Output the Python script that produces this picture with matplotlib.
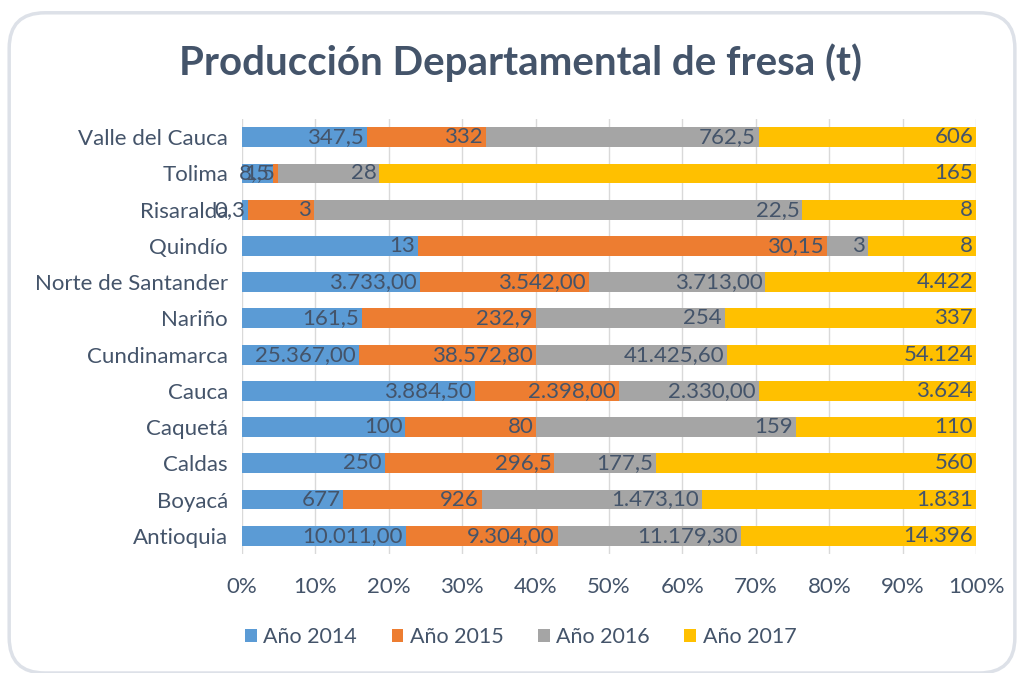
import matplotlib
matplotlib.use("Agg")
import matplotlib.pyplot as plt
import numpy as np
from matplotlib.patches import FancyBboxPatch

plt.rcParams['font.family'] = ['Lato', 'DejaVu Sans']

departamentos = ["Antioquia", "Boyacá", "Caldas", "Caquetá", "Cauca", "Cundinamarca",
                 "Nariño", "Norte de Santander", "Quindío", "Risaralda", "Tolima",
                 "Valle del Cauca"]
anio_2014 = [10011.00, 677, 250, 100, 3884.50, 25367.00, 161.5, 3733.00, 13, 0.3, 8.5, 347.5]
anio_2015 = [9304.00, 926, 296.5, 80, 2398.00, 38572.80, 232.9, 3542.00, 30.15, 3, 1.5, 332]
anio_2016 = [11179.30, 1473.10, 177.5, 159, 2330.00, 41425.60, 254, 3713.00, 3, 22.5, 28, 762.5]
anio_2017 = [14396, 1831, 560, 110, 3624, 54124, 337, 4422, 8, 8, 165, 606]

series = [("Año 2014", anio_2014, "#5B9BD5"),
          ("Año 2015", anio_2015, "#ED7D31"),
          ("Año 2016", anio_2016, "#A5A5A5"),
          ("Año 2017", anio_2017, "#FFC000")]
txt = "#44546A"


def es_num(v, entero=False):
    # formato numerico espanol: punto para miles, coma para decimales
    if entero:
        s = f"{v:,.0f}"
    elif v >= 1000:
        s = f"{v:,.2f}"
    else:
        s = f"{v:g}"
    return s.replace(",", "X").replace(".", ",").replace("X", ".")


fig = plt.figure(figsize=(10.21, 6.73), dpi=100)
marco = FancyBboxPatch((0.009, 0.0), 0.985, 0.981, boxstyle="round,pad=0,rounding_size=0.035",
                       transform=fig.transFigure, facecolor="white",
                       edgecolor="#DDE1E8", linewidth=2.5, mutation_aspect=1.5, zorder=-5)
fig.patches.append(marco)
ax = fig.add_axes([0.237, 0.177, 0.719, 0.646])
ax.set_facecolor("none")

totales = np.array(anio_2014) + np.array(anio_2015) + np.array(anio_2016) + np.array(anio_2017)
y = np.arange(len(departamentos))
izq = np.zeros(len(departamentos))
for nombre, vals, color in series:
    frac = np.array(vals) / totales
    ax.barh(y, frac, left=izq, height=0.55, color=color, label=nombre, zorder=2)
    for i, v in enumerate(vals):
        ax.text(izq[i] + frac[i] - 0.004, y[i], es_num(v, nombre == "Año 2017"),
                ha="right", va="center", fontsize=16, color=txt, zorder=3)
    izq += frac

ax.set_xlim(0, 1)
ax.set_ylim(-0.5, len(departamentos) - 0.5)
ax.set_xticks(np.arange(0, 1.01, 0.1))
ax.set_xticklabels([f"{int(round(t * 100))}%" for t in np.arange(0, 1.01, 0.1)])
ax.set_yticks(y)
ax.set_yticklabels(departamentos)
ax.tick_params(axis="both", length=0, labelsize=16, labelcolor=txt)
ax.tick_params(axis="x", pad=17)
ax.tick_params(axis="y", pad=10)
ax.grid(axis="x", color="#D9D9D9", linewidth=1, zorder=0)
for s in ax.spines.values():
    s.set_visible(False)

fig.text(0.51, 0.907, "Producción Departamental de fresa (t)", ha="center", va="center",
         fontsize=29, fontweight="bold", color=txt)
fig.legend(loc="center", bbox_to_anchor=(0.51, 0.053), ncol=4, frameon=False,
           fontsize=15.5, labelcolor=txt, handlelength=0.55, handleheight=0.55,
           handletextpad=0.3, columnspacing=1.6)

fig.savefig("out.png", dpi=100)
